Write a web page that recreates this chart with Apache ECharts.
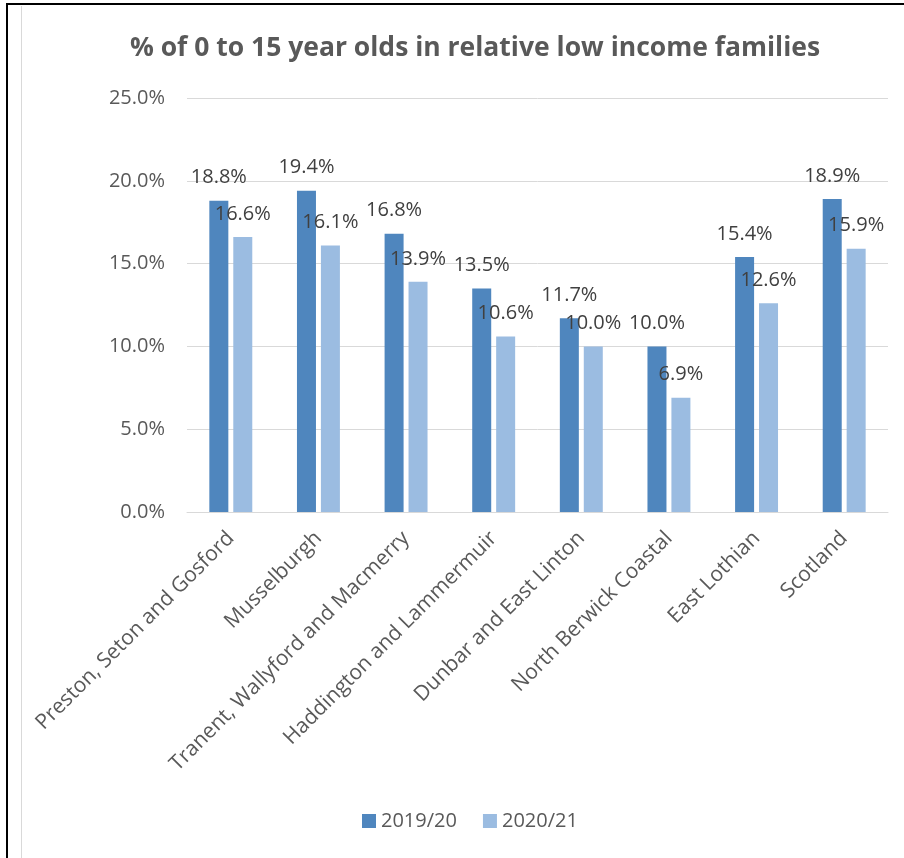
<!DOCTYPE html>
<html lang="en">
<head>
    <meta charset="UTF-8">
    <title>% of 0 to 15 year olds in relative low income families</title>
    <script src="https://cdn.jsdelivr.net/npm/echarts@6/dist/echarts.min.js"></script>
    <style>
        html, body { margin: 0; padding: 0; background: #fff; }
        #wrap { position: relative; width: 904px; height: 858px; overflow: hidden; }
        #chart { position: absolute; left: 0; top: 0; width: 904px; height: 858px; }
        .frame { position: absolute; left: 6px; top: 3px; width: 1000px; height: 1000px;
                 border-left: 2px solid #000; border-top: 2px solid #000; pointer-events: none; }
        .inner { position: absolute; left: 21px; top: 6px; width: 1px; height: 900px; background: #d9d9d9; }
    </style>
</head>
<body>
<div id="wrap">
    <div id="chart"></div>
    <div class="frame"></div>
    <div class="inner"></div>
</div>
<script>
    var areas = ['Preston, Seton and Gosford', 'Musselburgh', 'Tranent, Wallyford and Macmerry',
        'Haddington and Lammermuir', 'Dunbar and East Linton', 'North Berwick Coastal',
        'East Lothian', 'Scotland'];
    var y2019 = [18.8, 19.4, 16.8, 13.5, 11.7, 10.0, 15.4, 18.9];
    var y2020 = [16.6, 16.1, 13.9, 10.6, 10.0, 6.9, 12.6, 15.9];

    var textColor = '#595959';
    var font = '"Open Sans", sans-serif';

    var chart = echarts.init(document.getElementById('chart'));

    function pct(v) { return v.toFixed(1) + '%'; }

    var labelStyle = {
        show: true,
        position: 'top',
        distance: 13,
        color: '#404040',
        fontSize: 20,
        fontFamily: font,
        formatter: function (p) { return pct(p.value); }
    };

    chart.setOption({
        animation: false,
        title: {
            text: '% of 0 to 15 year olds in relative low income families',
            left: 470,
            top: 30,
            textAlign: 'center',
            textStyle: { color: textColor, fontSize: 26.5, fontWeight: 'bold', fontFamily: font }
        },
        legend: {
            bottom: 22,
            left: 357,
            itemWidth: 14,
            itemHeight: 14,
            itemGap: 26,
            icon: 'rect',
            textStyle: { color: textColor, fontSize: 20, fontFamily: font },
            data: ['2019/20', '2020/21']
        },
        grid: { left: 187, right: 16, top: 98, bottom: 346 },
        xAxis: {
            type: 'category',
            data: areas,
            axisLine: { lineStyle: { color: '#d9d9d9', width: 1 } },
            axisTick: { show: false },
            axisLabel: { rotate: 45, margin: 23, color: textColor, fontSize: 21, fontFamily: font, interval: 0 }
        },
        yAxis: {
            type: 'value',
            min: 0,
            max: 25,
            interval: 5,
            axisLine: { show: false },
            axisTick: { show: false },
            splitLine: { lineStyle: { color: '#d9d9d9', width: 1 } },
            axisLabel: { margin: 22, color: textColor, fontSize: 20, fontFamily: font, formatter: pct }
        },
        series: [
            {
                name: '2019/20',
                type: 'bar',
                data: y2019,
                barWidth: 19,
                barGap: '26%',
                itemStyle: { color: '#4f86be' },
                label: labelStyle
            },
            {
                name: '2020/21',
                type: 'bar',
                data: y2020,
                barWidth: 19,
                itemStyle: { color: '#9bbce1' },
                label: labelStyle
            }
        ]
    });
</script>
</body>
</html>
